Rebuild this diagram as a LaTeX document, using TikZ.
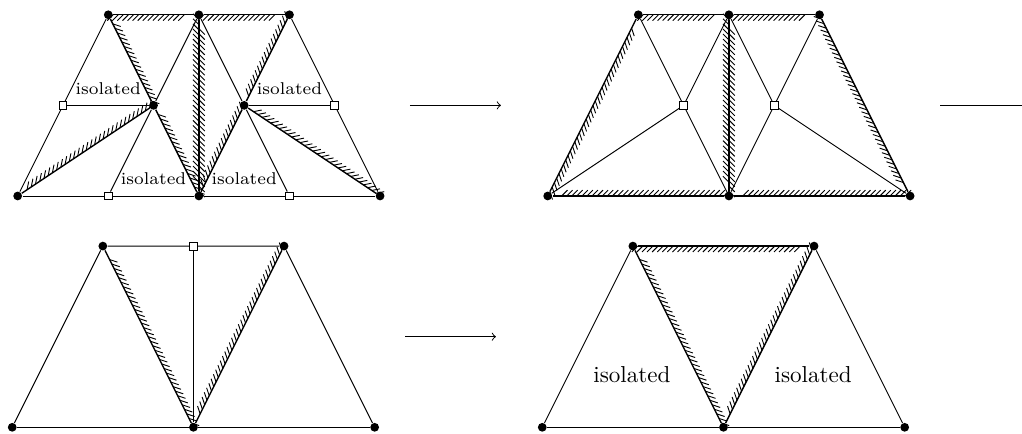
\documentclass[tikz,border=0pt]{standalone}
\usetikzlibrary{decorations.pathreplacing}
\tikzset{
  vtx/.style={circle, fill=black, inner sep=0pt, minimum size=3.8pt},
  sq/.style={rectangle, draw, fill=white, inner sep=0pt, minimum size=3.4pt},
  hatched/.style={semithick, postaction={decorate, draw, thin,
      decoration={border, angle=-135, amplitude=3.6pt, segment length=2.2pt}}},
  lbl/.style={font=\fontsize{7.4}{8}\selectfont, inner sep=1pt},
}
\begin{document}
\begin{tikzpicture}[x=1.38cm, y=1.38cm]
    \useasboundingbox (-0.195,-2.616) rectangle (11.085,2.163);
    % top left
    \node[vtx] (ab0) at (0,0) {};
    \node[sq]  (ab1) at (1,0) {};
    \node[vtx] (ab2) at (2,0) {};
    \node[sq]  (ab3) at (3,0) {};
    \node[vtx] (ab4) at (4,0) {};
    \node[sq]  (am0) at (0.5,1) {};
    \node[vtx] (am1) at (1.5,1) {};
    \node[vtx] (am2) at (2.5,1) {};
    \node[sq]  (am3) at (3.5,1) {};
    \node[vtx] (at1) at (1,2) {};
    \node[vtx] (at2) at (2,2) {};
    \node[vtx] (at3) at (3,2) {};
    \draw (ab0) -- (ab1) -- (ab2) -- (ab3) -- (ab4);
    \draw (ab0) -- (am0) -- (at1);
    \draw (ab4) -- (am3) -- (at3);
    \draw (am0) -- (am1);
    \draw (am2) -- (am3);
    \draw (at2) -- (am1) -- (ab1);
    \draw (at2) -- (am2) -- (ab3);
    \draw[hatched] (at1) -- (at2);
    \draw[hatched] (at2) -- (at3);
    \draw[hatched] (am1) -- (at1);
    \draw[hatched] (ab2) -- (am1);
    \draw[hatched] (am1) -- (ab0);
    \draw[hatched] (at2) -- (ab2);
    \draw[hatched] (ab2) -- (at2);
    \draw[hatched] (at3) -- (am2);
    \draw[hatched] (am2) -- (ab2);
    \draw[hatched] (ab4) -- (am2);
    \node[lbl] (ai1) at (1,1.19) {isolated};
    \node[lbl] (ai2) at (3,1.19) {isolated};
    \node[lbl] (ai3) at (1.5,0.19) {isolated};
    \node[lbl] (ai4) at (2.5,0.19) {isolated};
    % top right
    \begin{scope}[shift={(5.85,0)}]
        \node[vtx] (bb0) at (0,0) {};
        \node[vtx] (bb2) at (2,0) {};
        \node[vtx] (bb4) at (4,0) {};
        \node[sq]  (bm1) at (1.5,1) {};
        \node[sq]  (bm2) at (2.5,1) {};
        \node[vtx] (bt1) at (1,2) {};
        \node[vtx] (bt2) at (2,2) {};
        \node[vtx] (bt3) at (3,2) {};
        \draw (bm1) -- (bt1); \draw (bm1) -- (bt2);
        \draw (bm1) -- (bb0); \draw (bm1) -- (bb2);
        \draw (bm2) -- (bt2); \draw (bm2) -- (bt3);
        \draw (bm2) -- (bb2); \draw (bm2) -- (bb4);
        \draw[hatched] (bt1) -- (bt2);
        \draw[hatched] (bt2) -- (bt3);
        \draw[hatched] (bb0) -- (bt1);
        \draw[hatched] (bt3) -- (bb4);
        \draw[hatched] (bb4) -- (bb2);
        \draw[hatched] (bb2) -- (bb0);
        \draw[hatched] (bt2) -- (bb2);
        \draw[hatched] (bb2) -- (bt2);
    \end{scope}
    % bottom left
    \begin{scope}[shift={(-0.06,-2.553)}]
        \node[vtx] (cb0) at (0,0) {};
        \node[vtx] (cb2) at (2,0) {};
        \node[vtx] (cb4) at (4,0) {};
        \node[vtx] (ct1) at (1,2) {};
        \node[sq]  (ct2) at (2,2) {};
        \node[vtx] (ct3) at (3,2) {};
        \draw (cb0) -- (cb2) -- (cb4);
        \draw (cb0) -- (ct1) -- (ct2) -- (ct3) -- (cb4);
        \draw (ct2) -- (cb2);
        \draw[hatched] (cb2) -- (ct1);
        \draw[hatched] (ct3) -- (cb2);
    \end{scope}
    % bottom right
    \begin{scope}[shift={(5.79,-2.553)}]
        \node[vtx] (db0) at (0,0) {};
        \node[vtx] (db2) at (2,0) {};
        \node[vtx] (db4) at (4,0) {};
        \node[vtx] (dt1) at (1,2) {};
        \node[vtx] (dt3) at (3,2) {};
        \draw (db0) -- (db2) -- (db4);
        \draw (db0) -- (dt1);
        \draw (db4) -- (dt3);
        \draw[hatched] (dt1) -- (dt3);
        \draw[hatched] (db2) -- (dt1);
        \draw[hatched] (dt3) -- (db2);
        \node (di1) at (0.99,0.58) {isolated};
        \node (di2) at (2.99,0.58) {isolated};
    \end{scope}
    % arrows
    \coordinate (s1) at (4.33,1);
    \coordinate (e1) at (5.334,1);
    \coordinate (s2) at (4.275,-1.553);
    \coordinate (e2) at (5.279,-1.553);
    \coordinate (s3) at (10.18,1);
    \coordinate (e3) at (11.085,1);
    \draw[->] (s1) -- (e1);
    \draw[->] (s2) -- (e2);
    \draw (s3) -- (e3);
\end{tikzpicture}
\end{document}
